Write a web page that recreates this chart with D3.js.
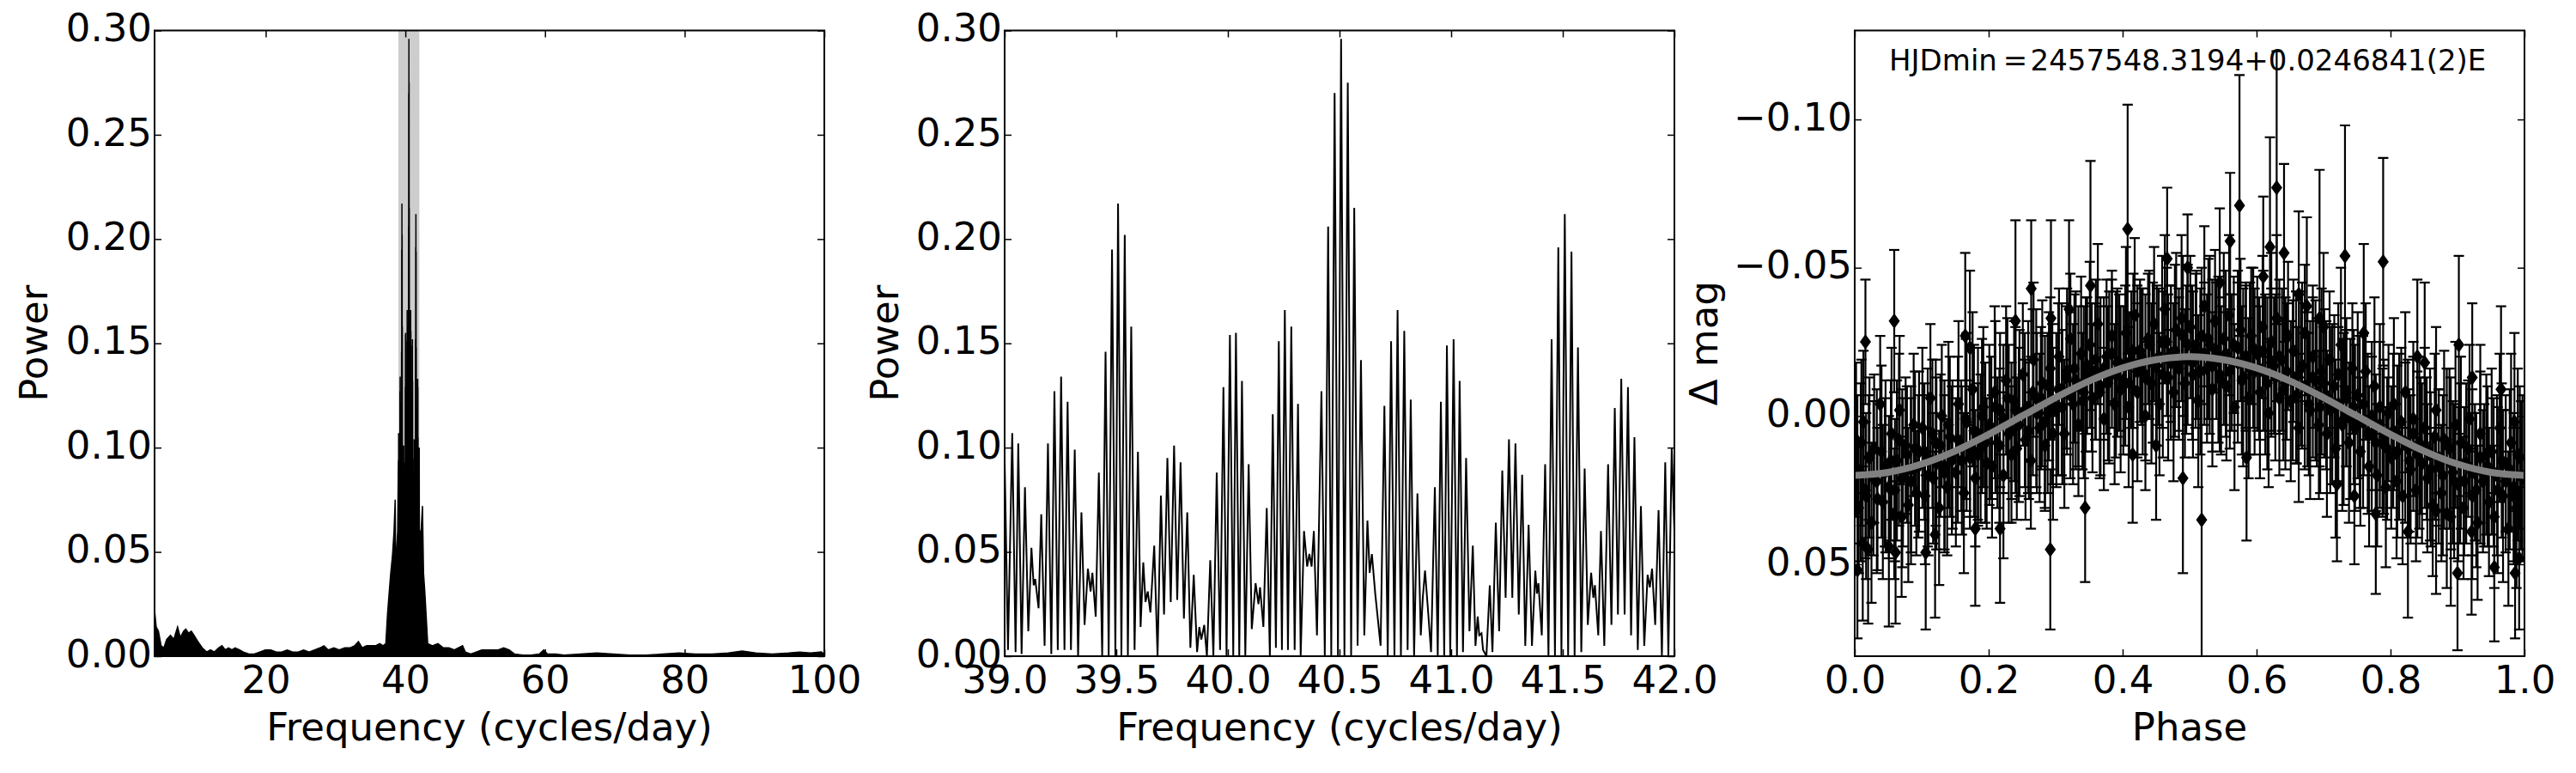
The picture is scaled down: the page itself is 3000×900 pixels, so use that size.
<!DOCTYPE html>
<html>
<head>
<meta charset="utf-8">
<script src="https://cdn.jsdelivr.net/npm/d3@7"></script>
<style>
  body { margin: 0; background: #fff; }
  svg { display: block; font-family: "DejaVu Sans", sans-serif; }
</style>
</head>
<body>
<svg></svg>
<script>
const width = 3000;
const height = 900;

// ---- data ----
// panel 1: envelope of the wide periodogram below and above the zoom window
const lowFreq = [4.08, 4.32, 4.63, 5.02, 5.41, 5.81, 6.36, 6.83, 7.38, 7.77, 8.24, 8.55, 8.95, 9.34, 9.73,
  10.28, 10.91, 11.54, 12.09, 12.64, 13.26, 13.73, 14.21, 14.68, 15.15, 15.62, 16.25, 16.80, 17.58, 18.37,
  19.15, 19.94, 20.72, 21.51, 22.29, 23.08, 23.86, 24.65, 25.43, 26.21, 27.00, 27.78, 28.33, 28.96, 29.75,
  30.53, 31.32, 32.10, 32.73, 33.28, 33.83, 34.46, 35.08, 35.71, 36.34, 36.81, 37.20, 37.44, 37.67, 37.91,
  38.15, 38.38, 38.54, 38.62, 38.75, 38.90];
const lowPower = [0.022, 0.014, 0.012, 0.005, 0.004, 0.008, 0.010, 0.008, 0.014, 0.009, 0.012, 0.013, 0.011, 0.012, 0.010,
  0.007, 0.004, 0.002, 0.003, 0.002, 0.004, 0.005, 0.003, 0.004, 0.003, 0.004, 0.003, 0.002, 0.001, 0.001,
  0.002, 0.003, 0.003, 0.002, 0.002, 0.003, 0.002, 0.002, 0.003, 0.002, 0.003, 0.004, 0.005, 0.003, 0.004,
  0.003, 0.004, 0.004, 0.005, 0.007, 0.004, 0.005, 0.005, 0.005, 0.006, 0.005, 0.006, 0.020, 0.030, 0.040,
  0.048, 0.060, 0.075, 0.040, 0.050, 0.060];
const highFreq = [42.25, 42.45, 42.60, 42.80, 43.00, 43.20, 43.88, 44.66, 45.45, 46.23, 47.02, 48.19, 48.58, 49.37,
  50.15, 50.94, 52.12, 53.29, 54.08, 54.86, 55.65, 56.83, 58.00, 59.18, 59.81, 60.36, 61.54, 62.72, 65.07,
  67.42, 69.78, 72.13, 74.49, 76.84, 79.20, 81.55, 83.91, 86.26, 88.22, 90.19, 92.54, 94.90, 96.46, 98.03,
  99.60, 100.00];
const highPower = [0.060, 0.072, 0.040, 0.030, 0.018, 0.006, 0.005, 0.006, 0.004, 0.004, 0.003, 0.005, 0.002, 0.001,
  0.002, 0.003, 0.003, 0.003, 0.004, 0.003, 0.001, 0.0005, 0.0005, 0.001, 0.003, 0.001, 0.001, 0.0005, 0.001,
  0.0015, 0.001, 0.0005, 0.0005, 0.001, 0.0015, 0.001, 0.001, 0.0015, 0.0025, 0.0015, 0.001, 0.0015, 0.002, 0.0015,
  0.002, 0.001];

// panel 2: zoomed periodogram, 39-42 cycles/day (local maxima and minima)
const zoomFreq = [39.000, 39.015, 39.034, 39.049, 39.061, 39.076, 39.091, 39.106, 39.120, 39.130, 39.137, 39.152,
  39.164, 39.179, 39.194, 39.209, 39.223, 39.238, 39.253, 39.268, 39.282, 39.297, 39.314, 39.329, 39.344, 39.358,
  39.373, 39.385, 39.393, 39.408, 39.422, 39.437, 39.452, 39.466, 39.481, 39.496, 39.508, 39.523, 39.538, 39.552,
  39.567, 39.582, 39.597, 39.609, 39.621, 39.631, 39.641, 39.653, 39.670, 39.685, 39.700, 39.714, 39.729, 39.744,
  39.759, 39.773, 39.788, 39.803, 39.818, 39.832, 39.847, 39.862, 39.872, 39.881, 39.894, 39.906, 39.921, 39.935,
  39.950, 39.965, 39.980, 39.994, 40.009, 40.024, 40.036, 40.051, 40.063, 40.078, 40.093, 40.107, 40.124, 40.137,
  40.144, 40.159, 40.174, 40.188, 40.201, 40.215, 40.228, 40.242, 40.255, 40.269, 40.284, 40.299, 40.314, 40.326,
  40.341, 40.355, 40.365, 40.375, 40.385, 40.399, 40.419, 40.434, 40.449, 40.463, 40.478, 40.493, 40.507, 40.522,
  40.537, 40.552, 40.566, 40.581, 40.596, 40.611, 40.625, 40.635, 40.645, 40.660, 40.684, 40.701, 40.716, 40.731,
  40.746, 40.760, 40.775, 40.790, 40.805, 40.819, 40.834, 40.849, 40.864, 40.873, 40.883, 40.895, 40.910, 40.927,
  40.940, 40.954, 40.969, 40.981, 40.996, 41.011, 41.026, 41.038, 41.053, 41.067, 41.082, 41.097, 41.109, 41.119,
  41.126, 41.136, 41.143, 41.158, 41.173, 41.185, 41.200, 41.215, 41.229, 41.244, 41.259, 41.274, 41.288, 41.303,
  41.318, 41.332, 41.347, 41.362, 41.377, 41.384, 41.391, 41.406, 41.421, 41.436, 41.450, 41.465, 41.480, 41.494,
  41.509, 41.524, 41.539, 41.553, 41.568, 41.583, 41.598, 41.612, 41.627, 41.637, 41.644, 41.659, 41.671, 41.686,
  41.703, 41.718, 41.733, 41.747, 41.762, 41.777, 41.792, 41.806, 41.821, 41.836, 41.850, 41.865, 41.880, 41.890,
  41.900, 41.914, 41.929, 41.944, 41.959, 41.973, 41.988, 42.000];
const zoomPower = [0.094, 0.003, 0.107, 0.002, 0.102, 0.001, 0.081, 0.012, 0.052, 0.034, 0.037, 0.023,
  0.068, 0.005, 0.102, 0.001, 0.127, 0.003, 0.134, 0.003, 0.122, 0.003, 0.099, 0.000, 0.069, 0.015,
  0.042, 0.031, 0.040, 0.019, 0.088, 0.000, 0.146, 0.000, 0.195, 0.000, 0.217, 0.000, 0.202, 0.000,
  0.158, 0.003, 0.098, 0.014, 0.045, 0.026, 0.031, 0.021, 0.053, 0.000, 0.077, 0.020, 0.095, 0.026,
  0.101, 0.027, 0.093, 0.018, 0.069, 0.004, 0.039, 0.002, 0.014, 0.008, 0.015, 0.000, 0.046, 0.000,
  0.088, 0.003, 0.129, 0.000, 0.154, 0.000, 0.155, 0.000, 0.132, 0.000, 0.092, 0.013, 0.035, 0.025,
  0.033, 0.014, 0.071, 0.000, 0.116, 0.004, 0.151, 0.003, 0.166, 0.003, 0.158, 0.003, 0.121, 0.000,
  0.060, 0.043, 0.049, 0.043, 0.060, 0.010, 0.127, 0.000, 0.206, 0.000, 0.270, 0.000, 0.296, 0.000,
  0.275, 0.000, 0.215, 0.005, 0.142, 0.010, 0.065, 0.040, 0.049, 0.030, 0.005, 0.120, 0.000, 0.151,
  0.000, 0.166, 0.000, 0.156, 0.003, 0.123, 0.000, 0.078, 0.010, 0.028, 0.041, 0.024, 0.002, 0.081,
  0.000, 0.122, 0.000, 0.149, 0.000, 0.152, 0.000, 0.132, 0.002, 0.095, 0.012, 0.053, 0.005, 0.019,
  0.010, 0.011, 0.003, 0.000, 0.034, 0.002, 0.064, 0.012, 0.089, 0.028, 0.104, 0.028, 0.102, 0.020,
  0.087, 0.005, 0.063, 0.005, 0.041, 0.030, 0.035, 0.010, 0.092, 0.000, 0.152, 0.000, 0.196, 0.000,
  0.212, 0.000, 0.194, 0.000, 0.148, 0.002, 0.090, 0.015, 0.040, 0.028, 0.034, 0.010, 0.060, 0.005,
  0.092, 0.015, 0.119, 0.020, 0.133, 0.020, 0.129, 0.010, 0.105, 0.003, 0.072, 0.005, 0.039, 0.033,
  0.042, 0.015, 0.070, 0.000, 0.093, 0.000, 0.100, 0.060];

const zoomWindow = [39, 42];

// panel 3: phased light curve
const phase = [
  0.002, 0.006, 0.009, 0.013, 0.017, 0.021, 0.025, 0.029, 0.033, 0.038, 0.042, 0.046,
  0.051, 0.055, 0.059, 0.063, 0.067, 0.071, 0.076, 0.080, 0.084, 0.088, 0.092, 0.096,
  0.101, 0.105, 0.109, 0.113, 0.117, 0.121, 0.126, 0.130, 0.134, 0.138, 0.142, 0.146,
  0.151, 0.155, 0.159, 0.163, 0.167, 0.172, 0.176, 0.180, 0.184, 0.188, 0.192, 0.197,
  0.201, 0.205, 0.209, 0.213, 0.217, 0.222, 0.226, 0.230, 0.234, 0.238, 0.242, 0.246,
  0.251, 0.255, 0.259, 0.263, 0.267, 0.271, 0.276, 0.280, 0.284, 0.288, 0.292, 0.296,
  0.301, 0.305, 0.309, 0.313, 0.317, 0.322, 0.326, 0.330, 0.334, 0.338, 0.342, 0.347,
  0.351, 0.355, 0.359, 0.363, 0.367, 0.372, 0.376, 0.380, 0.384, 0.388, 0.392, 0.397,
  0.401, 0.405, 0.409, 0.413, 0.418, 0.422, 0.426, 0.430, 0.434, 0.438, 0.443, 0.447,
  0.451, 0.455, 0.459, 0.463, 0.468, 0.472, 0.476, 0.480, 0.484, 0.488, 0.493, 0.497,
  0.501, 0.505, 0.509, 0.513, 0.518, 0.522, 0.526, 0.530, 0.534, 0.538, 0.543, 0.547,
  0.551, 0.555, 0.559, 0.563, 0.567, 0.572, 0.576, 0.580, 0.584, 0.588, 0.592, 0.597,
  0.601, 0.605, 0.609, 0.613, 0.618, 0.622, 0.626, 0.630, 0.634, 0.638, 0.643, 0.647,
  0.651, 0.655, 0.659, 0.663, 0.668, 0.672, 0.676, 0.680, 0.684, 0.688, 0.693, 0.697,
  0.701, 0.705, 0.709, 0.713, 0.718, 0.722, 0.726, 0.730, 0.734, 0.738, 0.743, 0.747,
  0.751, 0.755, 0.759, 0.763, 0.768, 0.772, 0.776, 0.780, 0.784, 0.788, 0.793, 0.797,
  0.801, 0.805, 0.809, 0.813, 0.818, 0.822, 0.826, 0.830, 0.834, 0.838, 0.843, 0.847,
  0.851, 0.855, 0.859, 0.863, 0.868, 0.872, 0.876, 0.880, 0.884, 0.888, 0.893, 0.897,
  0.901, 0.905, 0.909, 0.913, 0.918, 0.922, 0.926, 0.930, 0.934, 0.938, 0.943, 0.947,
  0.951, 0.955, 0.959, 0.963, 0.968, 0.972, 0.976, 0.980, 0.984, 0.988, 0.993, 0.997,
  // points packed close to the curve
  0.004, 0.010, 0.016, 0.022, 0.028, 0.034, 0.040, 0.045,
  0.054, 0.060, 0.066, 0.072, 0.078, 0.084, 0.090, 0.095,
  0.104, 0.110, 0.116, 0.122, 0.128, 0.134, 0.140, 0.145,
  0.154, 0.160, 0.166, 0.172, 0.178, 0.184, 0.190, 0.195,
  0.204, 0.210, 0.216, 0.222, 0.228, 0.234, 0.240, 0.245,
  0.254, 0.260, 0.266, 0.272, 0.278, 0.284, 0.290, 0.295,
  0.304, 0.310, 0.316, 0.322, 0.328, 0.334, 0.340, 0.345,
  0.354, 0.360, 0.366, 0.372, 0.378, 0.384, 0.390, 0.395,
  0.404, 0.410, 0.416, 0.422, 0.428, 0.434, 0.440, 0.445,
  0.454, 0.460, 0.466, 0.472, 0.478, 0.484, 0.490, 0.495,
  0.504, 0.510, 0.516, 0.522, 0.528, 0.534, 0.540, 0.545,
  0.554, 0.560, 0.566, 0.572, 0.578, 0.584, 0.590, 0.595,
  0.604, 0.610, 0.616, 0.622, 0.628, 0.634, 0.640, 0.645,
  0.654, 0.660, 0.666, 0.672, 0.678, 0.684, 0.690, 0.695,
  0.704, 0.710, 0.716, 0.722, 0.728, 0.734, 0.740, 0.745,
  0.754, 0.760, 0.766, 0.772, 0.778, 0.784, 0.790, 0.795,
  0.804, 0.810, 0.816, 0.822, 0.828, 0.834, 0.840, 0.845,
  0.854, 0.860, 0.866, 0.872, 0.878, 0.884, 0.890, 0.895,
  0.904, 0.910, 0.916, 0.922, 0.928, 0.934, 0.940, 0.945,
  0.954, 0.960, 0.966, 0.972, 0.978, 0.984, 0.990, 0.995,
  // isolated points away from the dense band
  0.4075, 0.5745, 0.630, 0.620, 0.641, 0.732, 0.789, 0.352, 0.2635, 0.4665, 0.497, 0.5605,
  0.059, 0.016, 0.902, 0.922, 0.165, 0.172, 0.240, 0.293, 0.694, 0.675, 0.663, 0.851,
  0.292, 0.004, 0.012, 0.020, 0.051, 0.061, 0.106, 0.490, 0.518, 0.900, 0.955, 0.986,
  0.992, 0.921, 0.890, 0.868, 0.778, 0.746, 0.720, 0.826, 0.585, 0.450, 0.415, 0.344,
  0.180, 0.217, 0.120, 0.070, 0.320, 0.545, 0.610, 0.700, 0.760, 0.840, 0.965, 0.985];
const mag = [
  0.008, 0.031, 0.019, 0.002, 0.027, 0.014, 0.036, 0.011, 0.022, -0.004, 0.029, 0.017,
  0.024, 0.006, 0.033, 0.015, -0.002, 0.021, 0.010, 0.030, 0.018, 0.003, 0.026, 0.012,
  0.004, 0.027, 0.014, -0.006, 0.021, 0.009, 0.031, 0.000, 0.017, 0.024, 0.007, 0.013,
  0.019, -0.004, 0.010, 0.026, 0.002, 0.014, -0.009, 0.021, 0.006, 0.011, -0.003, 0.016,
  0.003, 0.017, -0.008, 0.009, -0.002, 0.020, -0.012, 0.006, 0.013, -0.005, 0.011, -0.001,
  -0.014, 0.008, -0.003, 0.015, -0.019, -0.006, 0.004, -0.011, 0.010, -0.001, -0.016, 0.006,
  -0.002, -0.020, -0.009, 0.006, -0.015, -0.026, -0.004, -0.012, 0.003, -0.021, -0.008, -0.017,
  -0.024, -0.006, -0.015, -0.031, -0.010, 0.001, -0.020, -0.013, -0.027, -0.004, -0.018, -0.009,
  -0.012, -0.028, -0.003, -0.019, -0.034, -0.008, -0.022, -0.015, 0.000, -0.026, -0.011, -0.031,
  -0.017, -0.004, -0.025, -0.036, -0.013, -0.021, -0.008, -0.029, -0.019, -0.033, -0.011, -0.024,
  -0.030, -0.014, -0.022, -0.005, -0.027, -0.037, -0.016, -0.024, -0.009, -0.032, -0.019, -0.012,
  -0.026, -0.010, -0.034, -0.018, -0.003, -0.023, -0.029, -0.013, -0.020, -0.006, -0.027, -0.015,
  -0.021, -0.008, -0.030, -0.014, -0.001, -0.025, -0.017, -0.033, -0.006, -0.019, -0.011, -0.027,
  -0.005, -0.022, -0.013, 0.004, -0.017, -0.028, -0.009, -0.002, -0.020, -0.012, 0.003, -0.015,
  -0.011, 0.006, -0.019, -0.004, 0.011, -0.014, -0.024, 0.001, -0.008, 0.009, -0.016, 0.004,
  -0.007, 0.012, 0.002, -0.015, 0.017, 0.006, -0.010, 0.020, -0.003, 0.009, 0.024, -0.001,
  0.014, -0.004, 0.022, 0.007, 0.027, -0.008, 0.011, 0.018, 0.001, 0.025, 0.009, 0.016,
  0.004, 0.021, 0.013, 0.030, -0.002, 0.017, 0.026, 0.008, 0.033, 0.011, 0.019, 0.003,
  0.023, 0.009, 0.031, 0.016, 0.001, 0.027, 0.019, 0.036, 0.006, 0.022, 0.013, 0.029,
  0.012, 0.034, 0.020, 0.004, 0.027, 0.016, 0.038, 0.009, 0.024, 0.031, 0.014, 0.021,
  // points packed close to the curve
  0.018, 0.009, 0.025, 0.014, 0.021, 0.028, 0.012, 0.019,
  0.015, 0.025, 0.008, 0.019, 0.013, 0.022, 0.011, 0.017,
  0.012, 0.020, 0.006, 0.016, 0.010, 0.019, 0.003, 0.015,
  0.008, 0.015, 0.001, 0.011, 0.005, 0.013, 0.000, 0.009,
  0.004, -0.003, 0.010, 0.001, -0.006, 0.005, -0.002, 0.003,
  -0.002, 0.005, -0.008, -0.001, -0.006, 0.002, -0.010, -0.004,
  -0.009, -0.003, -0.013, -0.007, -0.016, -0.010, -0.005, -0.014,
  -0.013, -0.019, -0.008, -0.016, -0.011, -0.021, -0.014, -0.018,
  -0.017, -0.011, -0.022, -0.015, -0.020, -0.013, -0.024, -0.018,
  -0.020, -0.014, -0.025, -0.018, -0.022, -0.016, -0.027, -0.019,
  -0.018, -0.024, -0.015, -0.021, -0.026, -0.017, -0.022, -0.014,
  -0.021, -0.015, -0.024, -0.018, -0.012, -0.020, -0.016, -0.023,
  -0.016, -0.022, -0.011, -0.018, -0.013, -0.020, -0.009, -0.015,
  -0.012, -0.007, -0.016, -0.010, -0.004, -0.013, -0.008, -0.003,
  -0.007, -0.002, -0.010, -0.004, 0.003, -0.006, 0.001, -0.003,
  0.002, -0.004, 0.006, 0.000, 0.009, 0.003, 0.007, 0.011,
  0.005, 0.012, 0.002, 0.009, 0.015, 0.006, 0.013, 0.010,
  0.011, 0.018, 0.007, 0.014, 0.020, 0.009, 0.016, 0.022,
  0.016, 0.022, 0.011, 0.019, 0.025, 0.014, 0.020, 0.017,
  0.019, 0.025, 0.015, 0.022, 0.018, 0.027, 0.013, 0.020,
  // isolated points
  -0.063, -0.071, -0.077, -0.057, -0.055, -0.054, -0.052, -0.044, -0.043, -0.053, -0.050, -0.059,
  -0.032, -0.025, -0.024, -0.013, -0.027, -0.023, -0.032, -0.033, -0.033, -0.037, -0.041, -0.018,
  0.045, 0.052, 0.043, 0.045, 0.044, 0.046, 0.046, 0.021, 0.035, 0.053, 0.051, 0.053,
  0.048, 0.039, 0.034, 0.032, 0.033, 0.027, 0.023, 0.039, 0.014, 0.010, 0.013, 0.031,
  0.038, 0.038, 0.040, 0.034, -0.036, -0.045, -0.047, -0.030, -0.028, -0.020, -0.009, 0.002];
const magErr = [
  0.026, 0.022, 0.030, 0.024, 0.028, 0.021, 0.027, 0.025, 0.031, 0.023, 0.026, 0.029,
  0.024, 0.029, 0.022, 0.027, 0.025, 0.030, 0.023, 0.026, 0.028, 0.024, 0.021, 0.027,
  0.027, 0.023, 0.030, 0.025, 0.022, 0.028, 0.026, 0.024, 0.029, 0.023, 0.027, 0.025,
  0.025, 0.028, 0.022, 0.027, 0.030, 0.024, 0.026, 0.023, 0.029, 0.025, 0.027, 0.022,
  0.027, 0.024, 0.029, 0.022, 0.026, 0.028, 0.025, 0.030, 0.023, 0.027, 0.024, 0.028,
  0.024, 0.027, 0.029, 0.023, 0.026, 0.030, 0.025, 0.028, 0.022, 0.027, 0.024, 0.029,
  0.026, 0.023, 0.029, 0.025, 0.028, 0.022, 0.027, 0.030, 0.024, 0.026, 0.029, 0.023,
  0.028, 0.025, 0.023, 0.027, 0.030, 0.024, 0.026, 0.029, 0.022, 0.027, 0.025, 0.028,
  0.025, 0.029, 0.027, 0.023, 0.026, 0.030, 0.024, 0.028, 0.025, 0.022, 0.027, 0.026,
  0.027, 0.024, 0.029, 0.025, 0.028, 0.023, 0.030, 0.026, 0.024, 0.028, 0.025, 0.027,
  0.024, 0.028, 0.026, 0.029, 0.023, 0.027, 0.025, 0.030, 0.026, 0.024, 0.028, 0.025,
  0.029, 0.025, 0.027, 0.023, 0.028, 0.026, 0.024, 0.030, 0.025, 0.027, 0.023, 0.028,
  0.026, 0.029, 0.024, 0.027, 0.025, 0.030, 0.023, 0.028, 0.026, 0.024, 0.029, 0.025,
  0.027, 0.024, 0.029, 0.025, 0.028, 0.023, 0.026, 0.030, 0.024, 0.027, 0.025, 0.028,
  0.025, 0.028, 0.023, 0.027, 0.030, 0.024, 0.026, 0.029, 0.025, 0.027, 0.022, 0.028,
  0.028, 0.025, 0.029, 0.023, 0.027, 0.026, 0.030, 0.024, 0.028, 0.025, 0.027, 0.023,
  0.024, 0.029, 0.026, 0.028, 0.023, 0.027, 0.030, 0.025, 0.026, 0.024, 0.029, 0.027,
  0.027, 0.025, 0.029, 0.024, 0.028, 0.026, 0.023, 0.030, 0.025, 0.027, 0.024, 0.028,
  0.026, 0.029, 0.024, 0.027, 0.025, 0.028, 0.023, 0.026, 0.030, 0.024, 0.027, 0.025,
  0.028, 0.024, 0.027, 0.025, 0.029, 0.023, 0.026, 0.030, 0.025, 0.027, 0.024, 0.028,
  // points packed close to the curve
  0.025, 0.028, 0.023, 0.027, 0.026, 0.024, 0.029, 0.025,
  0.027, 0.024, 0.029, 0.025, 0.023, 0.028, 0.026, 0.024,
  0.023, 0.027, 0.025, 0.029, 0.024, 0.026, 0.028, 0.025,
  0.028, 0.025, 0.027, 0.023, 0.029, 0.024, 0.026, 0.027,
  0.024, 0.029, 0.026, 0.025, 0.027, 0.023, 0.028, 0.026,
  0.026, 0.023, 0.028, 0.027, 0.024, 0.029, 0.025, 0.027,
  0.029, 0.026, 0.024, 0.028, 0.025, 0.027, 0.023, 0.026,
  0.025, 0.027, 0.029, 0.024, 0.026, 0.025, 0.028, 0.023,
  0.027, 0.024, 0.026, 0.029, 0.023, 0.028, 0.025, 0.027,
  0.023, 0.028, 0.025, 0.026, 0.029, 0.024, 0.027, 0.025,
  0.026, 0.025, 0.028, 0.024, 0.027, 0.029, 0.023, 0.026,
  0.028, 0.026, 0.023, 0.027, 0.025, 0.024, 0.029, 0.027,
  0.024, 0.027, 0.029, 0.025, 0.028, 0.026, 0.024, 0.023,
  0.027, 0.023, 0.026, 0.028, 0.024, 0.027, 0.025, 0.029,
  0.025, 0.028, 0.024, 0.026, 0.029, 0.023, 0.027, 0.026,
  0.029, 0.024, 0.027, 0.025, 0.023, 0.028, 0.026, 0.024,
  0.026, 0.029, 0.025, 0.027, 0.024, 0.026, 0.028, 0.023,
  0.024, 0.026, 0.028, 0.023, 0.027, 0.025, 0.029, 0.026,
  0.027, 0.025, 0.023, 0.028, 0.026, 0.029, 0.024, 0.027,
  0.025, 0.028, 0.026, 0.024, 0.027, 0.023, 0.029, 0.025,
  // isolated points
  0.042, 0.044, 0.046, 0.037, 0.030, 0.044, 0.035, 0.042, 0.023, 0.024, 0.018, 0.023,
  0.024, 0.021, 0.030, 0.025, 0.028, 0.026, 0.034, 0.033, 0.050, 0.030, 0.028, 0.027,
  0.027, 0.023, 0.026, 0.025, 0.027, 0.024, 0.026, 0.032, 0.055, 0.026, 0.025, 0.022,
  0.024, 0.028, 0.030, 0.028, 0.027, 0.023, 0.026, 0.029, 0.028, 0.025, 0.023, 0.025,
  0.026, 0.025, 0.028, 0.027, 0.030, 0.025, 0.027, 0.025, 0.030, 0.026, 0.028, 0.030];

// sinusoidal fit
const fitPhase = [0.00, 0.05, 0.10, 0.15, 0.20, 0.25, 0.30, 0.35, 0.40, 0.45, 0.50,
  0.55, 0.60, 0.65, 0.70, 0.75, 0.80, 0.85, 0.90, 0.95, 1.00];
const fitMag = [0.0200, 0.0190, 0.0162, 0.0118, 0.0062, 0.0000, -0.0062, -0.0118, -0.0162, -0.0190, -0.0200,
  -0.0190, -0.0162, -0.0118, -0.0062, 0.0000, 0.0062, 0.0118, 0.0162, 0.0190, 0.0200];

const freqTicksWide = [20, 40, 60, 80, 100];
const freqTicksZoom = [39.0, 39.5, 40.0, 40.5, 41.0, 41.5, 42.0];
const powerTicks = [0.00, 0.05, 0.10, 0.15, 0.20, 0.25, 0.30];
const phaseTicks = [0.0, 0.2, 0.4, 0.6, 0.8, 1.0];
const magTicks = [-0.10, -0.05, 0.00, 0.05];
const ephemeris = "HJDmin\u2009=\u200a2457548.3194+0.0246841(2)E";

// ---- layout ----
const plotTop = 35.5;
const plotW = 780;
const plotH = 728.5;
const panelLeft = [180, 1170, 2160];
const fontSize = 45;

const svg = d3.select("svg")
  .attr("width", width)
  .attr("height", height);

svg.append("rect").attr("width", width).attr("height", height).attr("fill", "#fff");

svg.append("defs").append("clipPath")
  .attr("id", "plot-clip")
  .append("rect")
  .attr("width", plotW)
  .attr("height", plotH);

function panel(i) {
  return svg.append("g").attr("transform", `translate(${panelLeft[i]},${plotTop})`);
}

function axes(g, x, y, xTicks, yTicks, xFmt, yFmt) {
  g.append("g")
    .attr("transform", `translate(0,${plotH})`)
    .call(d3.axisBottom(x).tickValues(xTicks).tickFormat(xFmt).tickSize(-8).tickPadding(11));
  g.append("g")
    .attr("class", "y-left")
    .call(d3.axisLeft(y).tickValues(yTicks).tickFormat(yFmt).tickSize(-8).tickPadding(3));
  g.append("g")
    .call(d3.axisTop(x).tickValues(xTicks).tickFormat("").tickSize(-8));
  g.append("g")
    .attr("transform", `translate(${plotW},0)`)
    .call(d3.axisRight(y).tickValues(yTicks).tickFormat("").tickSize(-8));

  g.selectAll(".domain").remove();
  g.selectAll(".tick line").attr("stroke", "#000").attr("stroke-width", 1.5);
  g.selectAll(".tick text")
    .attr("font-size", fontSize)
    .attr("font-family", "DejaVu Sans")
    .attr("fill", "#000");
  g.selectAll(".y-left .tick text").attr("dy", "0.27em");

  g.append("rect")
    .attr("width", plotW)
    .attr("height", plotH)
    .attr("fill", "none")
    .attr("stroke", "#000")
    .attr("stroke-width", 2);
}

function labels(g, xText, yText, yLabelX) {
  g.append("text")
    .attr("x", plotW / 2)
    .attr("y", 826.5)
    .attr("text-anchor", "middle")
    .attr("font-size", fontSize)
    .text(xText);
  g.append("text")
    .attr("transform", `translate(${yLabelX},${plotH / 2}) rotate(-90)`)
    .attr("text-anchor", "middle")
    .attr("font-size", fontSize)
    .text(yText);
}

// ---- panel 1: wide periodogram ----
const wide = [];
lowFreq.forEach((f, i) => wide.push({ f: f, p: lowPower[i] }));
zoomFreq.forEach((f, i) => wide.push({ f: f, p: zoomPower[i] }));
highFreq.forEach((f, i) => wide.push({ f: f, p: highPower[i] }));

const x1 = d3.scaleLinear().domain([4.08, 100]).range([0, plotW]);
const y1 = d3.scaleLinear().domain([0, 0.30]).range([plotH, 0]);

const g1 = panel(0);
const body1 = g1.append("g").attr("clip-path", "url(#plot-clip)");

body1.append("rect")
  .attr("x", x1(zoomWindow[0]))
  .attr("width", x1(zoomWindow[1]) - x1(zoomWindow[0]))
  .attr("y", 0)
  .attr("height", plotH)
  .attr("fill", "#cdcdcd");

body1.append("path")
  .datum(wide)
  .attr("d", d3.area().x(d => x1(d.f)).y0(y1(0)).y1(d => y1(d.p)))
  .attr("fill", "#000")
  .attr("stroke", "#000")
  .attr("stroke-width", 1.5)
  .attr("stroke-linejoin", "miter");

axes(g1, x1, y1, freqTicksWide, powerTicks, d3.format("d"), d3.format(".2f"));
labels(g1, "Frequency (cycles/day)", "Power", -125);

// ---- panel 2: zoomed periodogram ----
const zoom = zoomFreq.map((f, i) => ({ f: f, p: zoomPower[i] }));

const x2 = d3.scaleLinear().domain(zoomWindow).range([0, plotW]);
const y2 = d3.scaleLinear().domain([0, 0.30]).range([plotH, 0]);

const g2 = panel(1);
g2.append("g").attr("clip-path", "url(#plot-clip)")
  .append("path")
  .datum(zoom)
  .attr("d", d3.line().x(d => x2(d.f)).y(d => y2(d.p)))
  .attr("fill", "none")
  .attr("stroke", "#000")
  .attr("stroke-width", 2);

axes(g2, x2, y2, freqTicksZoom, powerTicks, d3.format(".1f"), d3.format(".2f"));
labels(g2, "Frequency (cycles/day)", "Power", -124);

// ---- panel 3: phased light curve ----
const points = phase.map((ph, i) => ({ ph: ph, m: mag[i], e: magErr[i] }));
const fit = fitPhase.map((ph, i) => ({ ph: ph, m: fitMag[i] }));

const x3 = d3.scaleLinear().domain([0, 1]).range([0, plotW]);
const y3 = d3.scaleLinear().domain([-0.13, 0.081]).range([0, plotH]);

const g3 = panel(2);
const body3 = g3.append("g").attr("clip-path", "url(#plot-clip)");

const bars = body3.append("g").attr("stroke", "#000").attr("stroke-width", 2.2);
bars.selectAll("line.err")
  .data(points)
  .join("line")
  .attr("class", "err")
  .attr("x1", d => x3(d.ph))
  .attr("x2", d => x3(d.ph))
  .attr("y1", d => y3(d.m - d.e))
  .attr("y2", d => y3(d.m + d.e));

const capHalf = 6;
bars.selectAll("line.cap-top")
  .data(points)
  .join("line")
  .attr("class", "cap-top")
  .attr("x1", d => x3(d.ph) - capHalf)
  .attr("x2", d => x3(d.ph) + capHalf)
  .attr("y1", d => y3(d.m - d.e))
  .attr("y2", d => y3(d.m - d.e));
bars.selectAll("line.cap-bottom")
  .data(points)
  .join("line")
  .attr("class", "cap-bottom")
  .attr("x1", d => x3(d.ph) - capHalf)
  .attr("x2", d => x3(d.ph) + capHalf)
  .attr("y1", d => y3(d.m + d.e))
  .attr("y2", d => y3(d.m + d.e));

// thin diamond markers
body3.append("g")
  .selectAll("path")
  .data(points)
  .join("path")
  .attr("transform", d => `translate(${x3(d.ph)},${y3(d.m)})`)
  .attr("d", "M0,-9L6.5,0L0,9L-6.5,0Z")
  .attr("fill", "#000");

body3.append("path")
  .datum(fit)
  .attr("d", d3.line().x(d => x3(d.ph)).y(d => y3(d.m)).curve(d3.curveMonotoneX))
  .attr("fill", "none")
  .attr("stroke", "#808080")
  .attr("stroke-width", 8);

g3.append("text")
  .attr("x", 40)
  .attr("y", 46.5)
  .attr("font-size", 34)
  .text(ephemeris);

axes(g3, x3, y3, phaseTicks, magTicks, d3.format(".1f"), d3.format(".2f"));
labels(g3, "Phase", "\u0394 mag", -160);
</script>
</body>
</html>
